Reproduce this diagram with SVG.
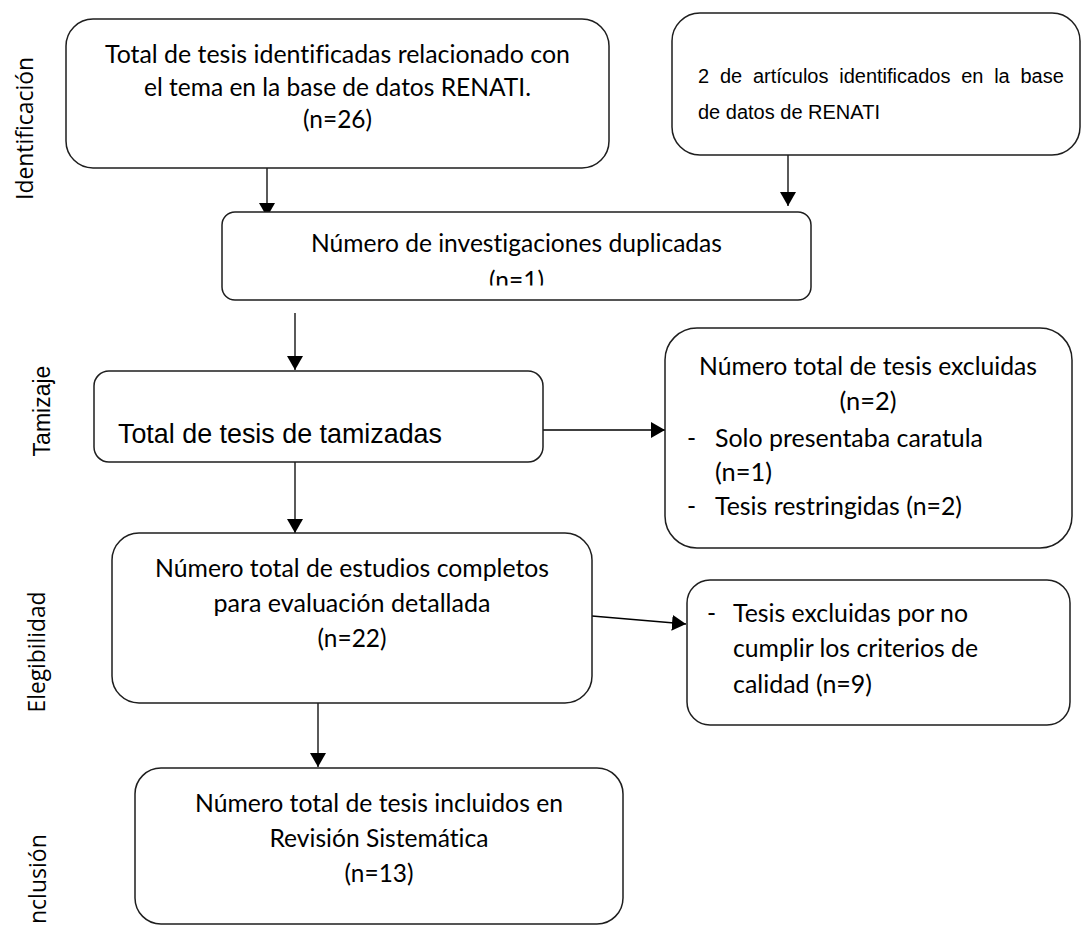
<svg xmlns="http://www.w3.org/2000/svg" width="1081" height="926" viewBox="0 0 1081 926">
<style>
.box{fill:#fff;stroke:#1e1e1e;stroke-width:1.5}
.t{font-family:Lato,"Liberation Sans",sans-serif;font-size:24.5px;fill:#000;font-variant-ligatures:none}
.c{text-anchor:middle}
.a{font-family:"Liberation Sans",Arial,sans-serif;fill:#000}
.side{font-family:"Open Sans","DejaVu Sans",sans-serif;font-size:23px;fill:#000;font-variant-ligatures:none}
.conn{stroke:#000;stroke-width:1.3;fill:none;marker-end:url(#ah)}
</style>
<defs>
<marker id="ah" viewBox="0 0 14 16" markerWidth="14" markerHeight="16" refX="14" refY="8" orient="auto" markerUnits="userSpaceOnUse">
<path d="M0,0 L14,8 L0,16 z" fill="#000"/>
</marker>
<clipPath id="clip3"><rect x="222" y="212" width="589" height="73.5"/></clipPath>
</defs>
<rect width="1081" height="926" fill="#fff"/>

<g id="labels">
<text class="side" transform="translate(33,128.5) rotate(-90)" text-anchor="middle" textLength="143" lengthAdjust="spacingAndGlyphs">Identificación</text>
<text class="a" font-size="23" transform="translate(50,411) rotate(-90)" text-anchor="middle">Tamizaje</text>
<text class="side" transform="translate(45,652) rotate(-90)" text-anchor="middle" textLength="121" lengthAdjust="spacingAndGlyphs">Elegibilidad</text>
<text class="side" transform="translate(46,924) rotate(-90)">nclusión</text>
</g>

<g id="connectors">
<line class="conn" x1="267" y1="168" x2="267" y2="217"/>
<line class="conn" x1="788" y1="155" x2="788" y2="206"/>
<line class="conn" x1="295" y1="313" x2="295" y2="370"/>
<line class="conn" x1="295" y1="462" x2="295" y2="533"/>
<line class="conn" x1="543" y1="430" x2="665" y2="430"/>
<line class="conn" x1="592" y1="616" x2="686" y2="624"/>
<line class="conn" x1="318" y1="703" x2="318" y2="767"/>
</g>

<g id="n1">
<rect class="box" x="66" y="19" width="543" height="149" rx="27"/>
<text class="t c" x="337.5" y="63" textLength="465" lengthAdjust="spacingAndGlyphs">Total de tesis identificadas relacionado con</text>
<text class="t c" x="337.5" y="95.5" textLength="387" lengthAdjust="spacingAndGlyphs">el tema en la base de datos RENATI.</text>
<text class="t c" x="337.5" y="128" textLength="69" lengthAdjust="spacingAndGlyphs">(n=26)</text>
</g>

<g id="n2">
<rect class="box" x="672" y="13" width="408" height="142" rx="28"/>
<text class="a" font-size="20" x="698" y="82.5" word-spacing="5.2">2 de artículos identificados en la base</text>
<text class="a" font-size="20" x="698" y="118.5">de datos de RENATI</text>
</g>

<g id="n3">
<rect class="box" x="222" y="212" width="589" height="88" rx="13"/>
<g clip-path="url(#clip3)">
<text class="t c" x="516.5" y="252" textLength="411" lengthAdjust="spacingAndGlyphs">Número de investigaciones duplicadas</text>
<text class="t c" x="516.5" y="289" textLength="55" lengthAdjust="spacingAndGlyphs">(n=1)</text>
</g>
</g>

<g id="n4">
<rect class="box" x="94" y="371" width="449" height="91" rx="15"/>
<text class="a" font-size="27.5" x="118" y="443" textLength="324" lengthAdjust="spacingAndGlyphs">Total de tesis de tamizadas</text>
</g>

<g id="n5">
<rect class="box" x="665" y="328" width="407" height="220" rx="32"/>
<text class="t c" x="868" y="375" textLength="338" lengthAdjust="spacingAndGlyphs">Número total de tesis excluidas</text>
<text class="t c" x="868" y="410" textLength="57" lengthAdjust="spacingAndGlyphs">(n=2)</text>
<text class="t" x="687" y="447">-</text>
<text class="t" x="715" y="447" textLength="268" lengthAdjust="spacingAndGlyphs">Solo presentaba caratula</text>
<text class="t" x="715" y="480.5" textLength="57" lengthAdjust="spacingAndGlyphs">(n=1)</text>
<text class="t" x="687" y="515">-</text>
<text class="t" x="715" y="515" textLength="247" lengthAdjust="spacingAndGlyphs">Tesis restringidas (n=2)</text>
</g>

<g id="n6">
<rect class="box" x="112" y="533" width="480" height="170" rx="27"/>
<text class="t c" x="352" y="577" textLength="394" lengthAdjust="spacingAndGlyphs">Número total de estudios completos</text>
<text class="t c" x="352" y="612" textLength="277" lengthAdjust="spacingAndGlyphs">para evaluación detallada</text>
<text class="t c" x="352" y="647" textLength="69" lengthAdjust="spacingAndGlyphs">(n=22)</text>
</g>

<g id="n7">
<rect class="box" x="687" y="580" width="383" height="145" rx="23"/>
<text class="t" x="707" y="622">-</text>
<text class="t" x="733" y="622" textLength="235" lengthAdjust="spacingAndGlyphs">Tesis excluidas por no</text>
<text class="t" x="733" y="657" textLength="245" lengthAdjust="spacingAndGlyphs">cumplir los criterios de</text>
<text class="t" x="733" y="693" textLength="139" lengthAdjust="spacingAndGlyphs">calidad (n=9)</text>
</g>

<g id="n8">
<rect class="box" x="135" y="768" width="488" height="156" rx="26"/>
<text class="t c" x="379" y="812" textLength="368" lengthAdjust="spacingAndGlyphs">Número total de tesis incluidos en</text>
<text class="t c" x="379" y="847" textLength="219" lengthAdjust="spacingAndGlyphs">Revisión Sistemática</text>
<text class="t c" x="379" y="882" textLength="69" lengthAdjust="spacingAndGlyphs">(n=13)</text>
</g>
</svg>
